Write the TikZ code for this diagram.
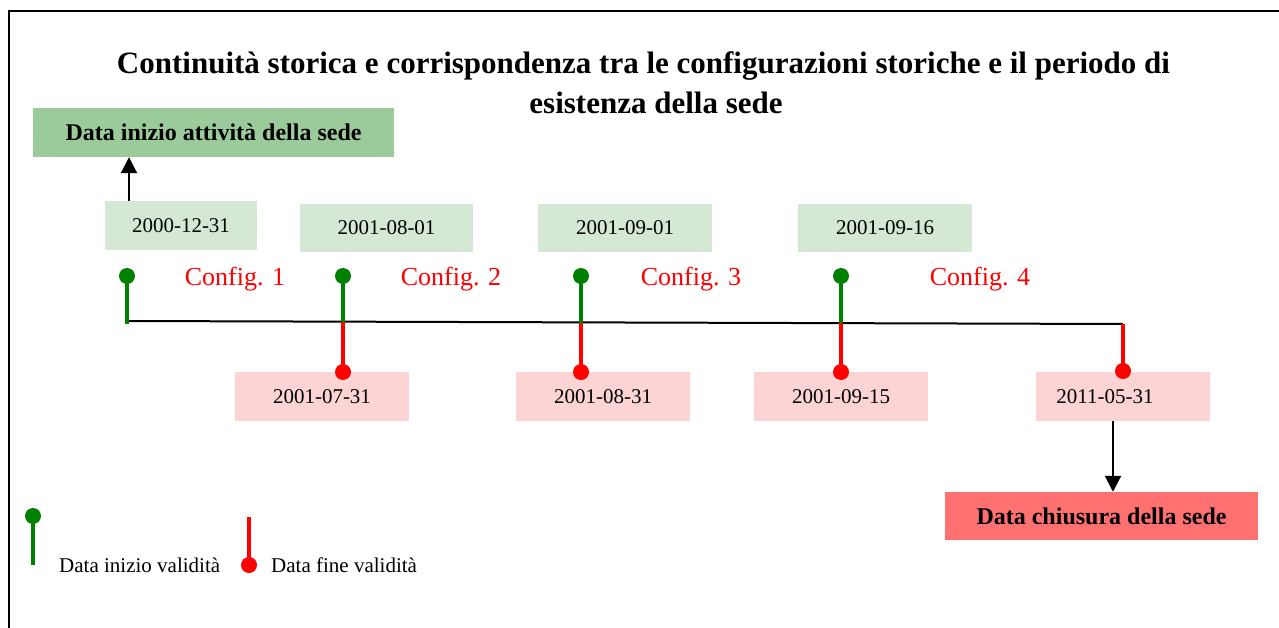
\documentclass[tikz,border=0pt]{standalone}
\usepackage{fontspec}
\setmainfont{Liberation Serif}
\usetikzlibrary{arrows.meta}
\definecolor{hdrgreen}{HTML}{9BCB9B}
\definecolor{boxgreen}{HTML}{D5E8D4}
\definecolor{boxpink}{HTML}{FDD4D4}
\definecolor{hdrred}{HTML}{FF7070}
\definecolor{pingreen}{HTML}{008000}
\definecolor{pinred}{HTML}{FF0000}
\tikzset{
  greenbox/.style={fill=boxgreen, draw=none, minimum width=174pt, minimum height=48pt, inner sep=0pt, font=\fontsize{21}{24}\selectfont},
  pinkbox/.style={fill=boxpink, draw=none, minimum width=174pt, minimum height=49pt, inner sep=0pt, font=\fontsize{21}{24}\selectfont},
  cfg/.style={text=pinred, inner sep=0pt, font=\fontsize{26}{30}\selectfont},
  hdr/.style={draw=none, inner sep=0pt, font=\bfseries\fontsize{24}{28}\selectfont},
  gstem/.style={draw=pingreen, line width=4pt},
  rstem/.style={draw=pinred, line width=4pt},
  gdot/.style={circle, fill=pingreen, inner sep=0pt, minimum size=16pt},
  rdot/.style={circle, fill=pinred, inner sep=0pt, minimum size=16pt},
  arr/.style={line width=2pt, -{Triangle[length=16pt,width=16pt]}},
  leg/.style={inner sep=0pt, anchor=west, font=\fontsize{21}{24}\selectfont},
}
\begin{document}
\begin{tikzpicture}[x=1pt,y=-1pt]
\useasboundingbox (0,0) rectangle (1279,628);
% frame
\draw[line width=2pt] (8.5,628) -- (8.5,11) -- (1279,11);
% title
\node[inner sep=0pt, font=\bfseries\fontsize{31}{35}\selectfont] (t1) at (643.5,66) {Continuità storica e corrispondenza tra le configurazioni storiche e il periodo di};
\node[inner sep=0pt, font=\bfseries\fontsize{31}{35}\selectfont] (t2) at (656,103) {esistenza della sede};
% headers
\node[hdr, fill=hdrgreen, minimum width=361pt, minimum height=49pt] (hstart) at (213.5,132.5) {Data inizio attività della sede};
\node[hdr, fill=hdrred, minimum width=313pt, minimum height=48pt] (hend) at (1101.5,516) {Data chiusura della sede};
% green date boxes
\node[greenbox, minimum width=152pt, minimum height=49pt] (g1) at (181,225.5) {2000-12-31};
\node[greenbox, minimum width=173pt] (g2) at (386.5,228) {2001-08-01};
\node[greenbox] (g3) at (625,228) {2001-09-01};
\node[greenbox] (g4) at (885,228) {2001-09-16};
% pink date boxes
\node[pinkbox] (p1) at (322,396.5) {2001-07-31};
\node[pinkbox] (p2) at (603,396.5) {2001-08-31};
\node[pinkbox] (p3) at (841,396.5) {2001-09-15};
\node[pinkbox] (p4) at (1123,396.5) {\hspace*{-36pt}2011-05-31};
% config labels
\node[cfg] (c1) at (235,279) {Config. 1};
\node[cfg] (c2) at (451,279) {Config. 2};
\node[cfg] (c3) at (691,279) {Config. 3};
\node[cfg] (c4) at (980,279) {Config. 4};
% pin coordinates
\coordinate (s1) at (127,276);
\coordinate (b1) at (127,324);
\coordinate (s2) at (343,276);
\coordinate (m2) at (343,321.5);
\coordinate (e2) at (343,372);
\coordinate (s3) at (581,276);
\coordinate (m3) at (581,322.5);
\coordinate (e3) at (581,372);
\coordinate (s4) at (841,276);
\coordinate (m4) at (841,323);
\coordinate (e4) at (841,372);
\coordinate (l0) at (127,321);
\coordinate (m5) at (1123,324);
\coordinate (e5) at (1123,371);
% timeline
\draw[line width=2pt] (l0) -- (m5);
\draw[gstem] (s1) -- (b1);
\draw[gstem] (s2) -- (m2);
\draw[rstem] (m2) -- (e2);
\draw[gstem] (s3) -- (m3);
\draw[rstem] (m3) -- (e3);
\draw[gstem] (s4) -- (m4);
\draw[rstem] (m4) -- (e4);
\draw[rstem] (m5) -- (e5);
\node[gdot] (ds1) at (s1) {};
\node[gdot] (ds2) at (s2) {};
\node[gdot] (ds3) at (s3) {};
\node[gdot] (ds4) at (s4) {};
\node[rdot] (de2) at (e2) {};
\node[rdot] (de3) at (e3) {};
\node[rdot] (de4) at (e4) {};
\node[rdot] (de5) at (e5) {};
% arrows
\coordinate (a1) at ([xshift=-52pt]g1.north);
\draw[arr] (a1) -- (a1 |- hstart.south);
\coordinate (a2) at ([xshift=-10pt]p4.south);
\draw[arr] (a2) -- (a2 |- hend.north);
% legend
\coordinate (lg1) at (33,516);
\coordinate (lg1b) at (33,565);
\draw[gstem] (lg1) -- (lg1b);
\node[gdot] (lgd1) at (lg1) {};
\node[leg] (lt1) at (59,565) {Data inizio validità};
\coordinate (lg2) at (249,517);
\coordinate (lg2b) at (249,565);
\draw[rstem] (lg2) -- (lg2b);
\node[rdot] (lgd2) at (lg2b) {};
\node[leg] (lt2) at (271,565) {Data fine validità};
\end{tikzpicture}
\end{document}
